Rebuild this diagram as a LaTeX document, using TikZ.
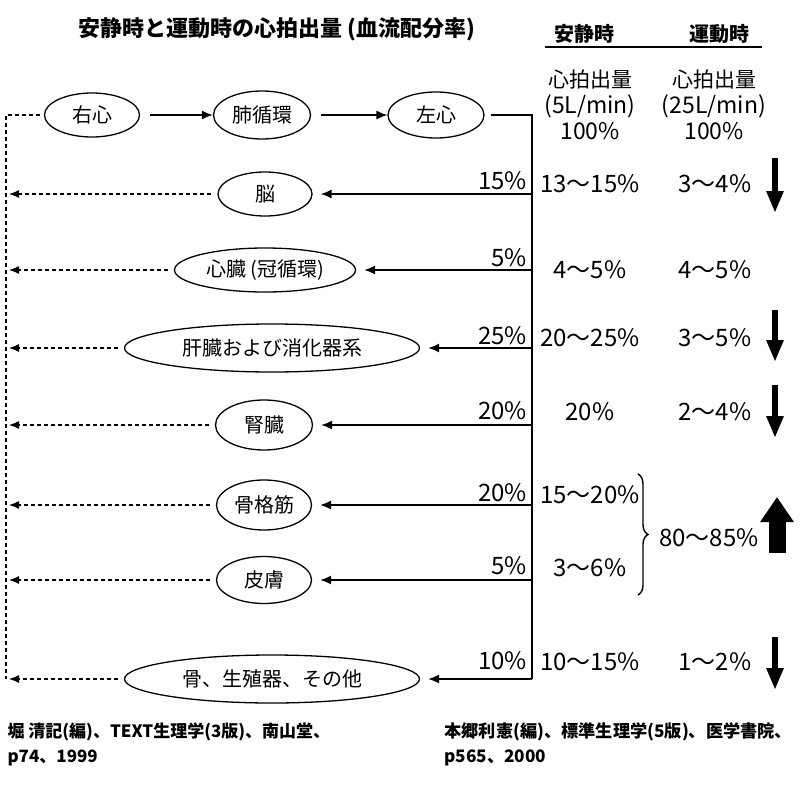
\documentclass[tikz,border=0pt]{standalone}
\usepackage{fontspec}
\setmainfont{Noto Sans CJK JP}
\usetikzlibrary{shapes.geometric,arrows.meta,decorations.pathreplacing}

\tikzset{
  organ/.style={draw, ellipse, line width=1.3pt, inner sep=0pt, minimum height=44pt, font=\fontsize{20}{22}\selectfont},
  flow/.style={-{Latex[length=11pt,width=9pt]}, line width=1.4pt},
  back/.style={-{Latex[length=10pt,width=8pt]}, line width=1.2pt, dash pattern=on 4pt off 3pt},
  val/.style={font=\fontsize{24}{26}\selectfont, inner sep=0pt},
  pct/.style={val, anchor=base east},
  drop/.style={-{Triangle[width=16pt,length=22pt]}, line width=6pt},
}

\begin{document}
\begin{tikzpicture}[x=1pt,y=-1pt]
        \fill[white] (0,0) rectangle (800,800);
        \useasboundingbox (0,0) rectangle (800,800);

        %title
        \node[font=\bfseries\fontsize{22}{24}\selectfont] (title) at (277,29) {安静時と運動時の心拍出量 (血流配分率)};
        \node[font=\bfseries\fontsize{20}{22}\selectfont] (rest) at (584,34) {安静時};
        \node[font=\bfseries\fontsize{20}{22}\selectfont] (exer) at (719,34) {運動時};
        \draw[line width=2pt] (545,47) -- (762,47);
        \node[val, align=center, font=\fontsize{23}{26}\selectfont] (restco) at (590,105) {{\fontsize{21}{26}\selectfont 心拍出量}\\(5L/min)\\100\%};
        \node[val, align=center, font=\fontsize{23}{26}\selectfont] (exerco) at (714,105) {{\fontsize{21}{26}\selectfont 心拍出量}\\(25L/min)\\100\%};

        %organs
        \node[organ, minimum width=95pt] (rh) at (92,115) {右心};
        \node[organ, minimum width=97pt, minimum height=48pt] (lung) at (262,115) {肺循環};
        \node[organ, minimum width=96pt, minimum height=46pt] (lh) at (436,115) {左心};
        \node[organ, minimum width=94pt] (brain) at (265,194) {脳};
        \node[organ, minimum width=181pt] (heart) at (265,270) {心臓 (冠循環)};
        \node[organ, minimum width=295pt, minimum height=48pt] (liver) at (272,348) {肝臓および消化器系};
        \node[organ, minimum width=97pt, minimum height=50pt] (kidney) at (264,425) {腎臓};
        \node[organ, minimum width=95pt, minimum height=50pt] (muscle) at (264,505) {骨格筋};
        \node[organ, minimum width=95pt, minimum height=47pt] (skin) at (264,580) {皮膚};
        \node[organ, minimum width=295pt, minimum height=48pt] (bone) at (272,679) {骨、生殖器、その他};

        %flow
        \coordinate (top) at (532,115);
        \draw[flow, shorten <=10pt] (rh) -- (lung);
        \draw[flow, shorten <=10pt] (lung) -- (lh);
        \draw[line width=1.4pt, shorten <=6pt] (lh) -- (top) -- (top |- bone);
        \foreach \n in {brain,heart,liver,kidney,muscle,skin,bone}
            \draw[flow, shorten >=8pt] (top |- \n) -- (\n);

        %return
        \coordinate (ret) at (6,115);
        \draw[line width=1.2pt, dash pattern=on 4pt off 3pt, shorten <=4pt] (rh) -- (ret) -- (ret |- bone);
        \foreach \n in {brain,heart,liver,kidney,muscle,skin,bone}
            \draw[back, shorten <=6pt, shorten >=3pt] (\n) -- (\n -| ret);

        %values
        \foreach \p/\y in {15/189, 5/266, 25/344, 20/419, 20/501, 5/574, 10/669}
            \node[pct] (p\y) at (527,\y) {\p\%};
        \foreach \t/\y in {13〜15/184, 4〜5/270, 20〜25/338, 20/412, 15〜20/495, 3〜6/568, 10〜15/662}
            \node[val] (r\y) at (590,\y) {\t\%};
        \foreach \t/\y in {3〜4/184, 4〜5/270, 3〜5/338, 2〜4/412, 1〜2/662}
            \node[val] (e\y) at (715,\y) {\t\%};
        \draw[decorate, decoration={brace, amplitude=10pt}, line width=1.4pt] (638,474) -- (638,595);
        \node[val, anchor=west] (sum) at (659,538) {80〜85\%};

        %change
        \draw[drop] (775,158) -- (775,213);
        \draw[drop] (775,310) -- (775,362);
        \draw[drop] (775,385) -- (775,438);
        \draw[drop] (775,637) -- (775,690);
        \draw[-{Triangle[width=32pt,length=25pt]}, line width=17pt] (777,553) -- (777,497);

        %sources
        \node[anchor=north west, align=left, font=\bfseries\fontsize{17}{25}\selectfont] (src1) at (4,719) {堀 清記(編)、TEXT生理学(3版)、南山堂、\\p74、1999};
        \node[anchor=north west, align=left, font=\bfseries\fontsize{17.2}{25}\selectfont] (src2) at (441,719) {本郷利憲(編)、標準生理学(5版)、医学書院、\\p565、2000};
\end{tikzpicture}
\end{document}
